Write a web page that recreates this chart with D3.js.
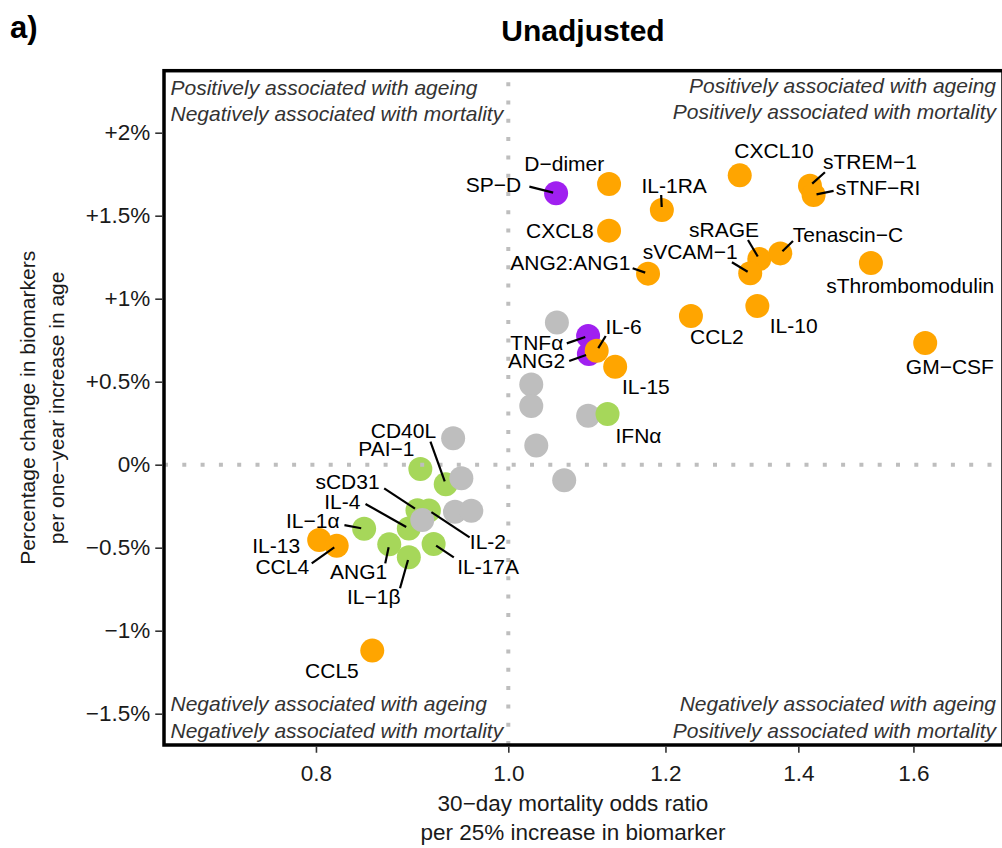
<!DOCTYPE html>
<html>
<head>
<meta charset="utf-8">
<script src="https://cdn.jsdelivr.net/npm/d3@7"></script>
<style>
  html, body { margin: 0; padding: 0; background: #fff; }
  svg { display: block; font-family: "Liberation Sans", Arial, Helvetica, sans-serif; }
</style>
</head>
<body>
<svg id="chart" width="1002" height="848"></svg>
<script>
// ---- data (draw order: later entries are painted on top) ----
const biomarkers = [
  "PAI\u22121", "CD40L", "sCD31", "IL-2", "IL-4", "IL\u22121\u03b1", "ANG1", "IL-17A", "IL\u22121\u03b2",
  null, null, null, null, null, null, null, null, null, null, null,
  "IFN\u03b1",
  "SP\u2212D", "TNF\u03b1", "ANG2",
  "D\u2212dimer", "IL-1RA", "CXCL10", "sTREM\u22121", "sTNF\u2212RI", "CXCL8", "ANG2:ANG1",
  "sRAGE", "sVCAM\u22121", "Tenascin\u2212C", "sThrombomodulin", "IL-10", "CCL2", "GM\u2212CSF",
  "IL-6", "IL-15", "IL-13", "CCL4", "CCL5"
];
const oddsRatio = [
  0.903, 0.930, 0.900, 0.912, 0.891, 0.846, 0.871, 0.917, 0.891,
  1.058, 1.027, 1.027, 1.097, 1.033, 1.067, 0.938, 0.947, 0.940, 0.958, 0.905,
  1.122,
  1.057, 1.097, 1.098,
  1.124, 1.195, 1.308, 1.419, 1.425, 1.124, 1.176,
  1.338, 1.324, 1.371, 1.523, 1.335, 1.236, 1.622,
  1.108, 1.132, 0.803, 0.8195, 0.854
];
const pctChange = [
  -0.026, -0.118, -0.275, -0.276, -0.384, -0.386, -0.480, -0.478, -0.557,
  0.857, 0.483, 0.354, 0.295, 0.116, -0.094, 0.159, -0.082, -0.283, -0.277, -0.333,
  0.305,
  1.635, 0.775, 0.667,
  1.691, 1.534, 1.743, 1.681, 1.625, 1.410, 1.151,
  1.239, 1.153, 1.273, 1.215, 0.956, 0.896, 0.733,
  0.687, 0.590, -0.454, -0.488, -1.120
];
const group = [
  "green", "green", "green", "green", "green", "green", "green", "green", "green",
  "grey", "grey", "grey", "grey", "grey", "grey", "grey", "grey", "grey", "grey", "grey",
  "green",
  "purple", "purple", "purple",
  "orange", "orange", "orange", "orange", "orange", "orange", "orange",
  "orange", "orange", "orange", "orange", "orange", "orange", "orange",
  "orange", "orange", "orange", "orange", "orange"
];

const xTicks = [0.8, 1.0, 1.2, 1.4, 1.6];
const xTickLabels = ["0.8", "1.0", "1.2", "1.4", "1.6"];
const yTicks = [2, 1.5, 1, 0.5, 0, -0.5, -1, -1.5];
const yTickLabels = ["+2%", "+1.5%", "+1%", "+0.5%", "0%", "\u22120.5%", "\u22121%", "\u22121.5%"];

const quadrantText = {
  topLeft: ["Positively associated with ageing", "Negatively associated with mortality"],
  topRight: ["Positively associated with ageing", "Positively associated with mortality"],
  bottomLeft: ["Negatively associated with ageing", "Negatively associated with mortality"],
  bottomRight: ["Negatively associated with ageing", "Positively associated with mortality"]
};

// ---- styling / layout ----
const colours = { orange: "#FFA500", purple: "#A020F0", green: "#A6D75A", grey: "#BEBEBE" };
const pointRadius = 12;
const labelSize = 21;
const tickSize = 22.5;

// label placement: text centre offset from the point (dx, dy) and,
// where a leader line is drawn, its start offset from the point (sx, sy)
const labelLayout = {
  "D\u2212dimer":      { dx: -44.8, dy: -21 },
  "IL-1RA":            { dx: 12.3, dy: -25, sx: -0.7, sy: -15 },
  "CXCL10":            { dx: 34.3, dy: -24.6 },
  "sTREM\u22121":      { dx: 60, dy: -24, sx: 15, sy: -13.4 },
  "sTNF\u2212RI":      { dx: 64.5, dy: -7.3, sx: 20, sy: -4 },
  "CXCL8":             { dx: -49.2, dy: 0 },
  "ANG2:ANG1":         { dx: -77.7, dy: -11.4, sx: -15.4, sy: -5.4 },
  "sRAGE":             { dx: -35.3, dy: -30, sx: -11.3, sy: -19 },
  "sVCAM\u22121":      { dx: -60, dy: -21.6, sx: -18.3, sy: -11 },
  "Tenascin\u2212C":   { dx: 67.7, dy: -19.3, sx: 12.7, sy: -12.3 },
  "sThrombomodulin":   { dx: 39.3, dy: 22.7 },
  "IL-10":             { dx: 36.3, dy: 19.7 },
  "CCL2":              { dx: 26, dy: 20.7 },
  "GM\u2212CSF":       { dx: 24.7, dy: 23.7 },
  "IL-6":              { dx: 27, dy: -24.7, sx: 9, sy: -14.7 },
  "IL-15":             { dx: 30.7, dy: 20 },
  "IL-13":             { dx: -43, dy: 5 },
  "CCL4":              { dx: -54.4, dy: 21, sx: -25, sy: 17.6 },
  "CCL5":              { dx: -40.3, dy: 20 },
  "SP\u2212D":         { dx: -62.5, dy: -9.3, sx: -26.7, sy: -6.6 },
  "TNF\u03b1":         { dx: -51.3, dy: 6.7, sx: -21.3, sy: 7.3 },
  "ANG2":              { dx: -52.3, dy: 6.7, sx: -19.7, sy: 7 },
  "IFN\u03b1":         { dx: 31, dy: 21 },
  "PAI\u22121":        { dx: -34, dy: -20.7 },
  "CD40L":             { dx: -42.3, dy: -54.3, sx: -15.3, sy: -42.6 },
  "sCD31":             { dx: -70, dy: -28.6, sx: -33.3, sy: -22 },
  "IL-2":              { dx: 59, dy: 31.2, sx: 40.7, sy: 26.8 },
  "IL-4":              { dx: -66.5, dy: -26.8, sx: -43.3, sy: -24.5 },
  "IL\u22121\u03b1":   { dx: -51.3, dy: -8.7, sx: -19.7, sy: -3.7 },
  "ANG1":              { dx: -30.7, dy: 27.4, sx: -4, sy: 19 },
  "IL-17A":            { dx: 54.5, dy: 22.7, sx: 20.2, sy: 13.3 },
  "IL\u22121\u03b2":   { dx: -35, dy: 39.5, sx: -8.8, sy: 31.1 }
};

const panel = { left: 164, top: 70.7, right: 1003, bottom: 745 };

const svg = d3.select("#chart");

const x = d3.scaleLog().domain([0.6707, 1.7752]).range([panel.left, panel.right]);
const y = d3.scaleLinear().domain([-1.6886, 2.3735]).range([panel.bottom, panel.top]);

const points = biomarkers.map((name, i) => ({
  name, or: oddsRatio[i], pct: pctChange[i], group: group[i]
}));

// clip everything inside the panel
svg.append("defs").append("clipPath").attr("id", "panelClip")
  .append("rect")
  .attr("x", panel.left).attr("y", panel.top)
  .attr("width", panel.right - panel.left).attr("height", panel.bottom - panel.top);

const plot = svg.append("g").attr("clip-path", "url(#panelClip)");

// points
plot.append("g").selectAll("circle")
  .data(points)
  .join("circle")
  .attr("cx", d => x(d.or))
  .attr("cy", d => y(d.pct))
  .attr("r", pointRadius)
  .attr("fill", d => colours[d.group]);

// dotted reference lines at OR = 1 and 0% change
plot.append("line")
  .attr("x1", x(1)).attr("x2", x(1))
  .attr("y1", panel.bottom).attr("y2", panel.top)
  .attr("stroke", "#BEBEBE").attr("stroke-width", 4)
  .attr("stroke-dasharray", "4,14.3");
plot.append("line")
  .attr("x1", panel.left).attr("x2", panel.right)
  .attr("y1", y(0)).attr("y2", y(0))
  .attr("stroke", "#BEBEBE").attr("stroke-width", 4)
  .attr("stroke-dasharray", "4,14.3");

// labels and leader lines
const labelled = points.filter(d => d.name && labelLayout[d.name]);
const segs = plot.append("g");
const labs = plot.append("g");
labelled.forEach(d => {
  const L = labelLayout[d.name];
  const px = x(d.or), py = y(d.pct);
  if (L.sx !== undefined) {
    const x0 = px + L.sx, y0 = py + L.sy;
    const len = Math.hypot(px - x0, py - y0);
    const k = Math.max(0, (len - 3) / len);
    segs.append("line")
      .attr("x1", x0).attr("y1", y0)
      .attr("x2", x0 + (px - x0) * k).attr("y2", y0 + (py - y0) * k)
      .attr("stroke", "#000").attr("stroke-width", 2.2);
  }
  labs.append("text")
    .attr("x", px + L.dx)
    .attr("y", py + L.dy)
    .attr("dy", "0.36em")
    .attr("text-anchor", "middle")
    .attr("font-size", labelSize)
    .attr("fill", "#000")
    .text(d.name);
});

// quadrant annotations
const qSize = 21, qGap = 26.3;
function quadrant(lines, xPos, yFirst, anchor) {
  lines.forEach((t, i) => {
    svg.append("text")
      .attr("x", xPos).attr("y", yFirst + i * qGap)
      .attr("dy", "0.36em")
      .attr("text-anchor", anchor)
      .attr("font-size", qSize)
      .attr("font-style", "italic")
      .attr("fill", "#333")
      .text(t);
  });
}
quadrant(quadrantText.topLeft, panel.left + 6.5, panel.top + 16.5, "start");
quadrant(quadrantText.topRight, panel.right - 7, panel.top + 14.5, "end");
quadrant(quadrantText.bottomLeft, panel.left + 6.5, panel.bottom - 41.3, "start");
quadrant(quadrantText.bottomRight, panel.right - 7, panel.bottom - 41.3, "end");

// panel frame
svg.append("rect")
  .attr("x", panel.left).attr("y", panel.top)
  .attr("width", panel.right - panel.left).attr("height", panel.bottom - panel.top)
  .attr("fill", "none").attr("stroke", "#000").attr("stroke-width", 3.5);

// axes
const yAxis = d3.axisLeft(y)
  .tickValues(yTicks)
  .tickFormat((d, i) => yTickLabels[i])
  .tickSize(7).tickPadding(5);
const gy = svg.append("g").attr("transform", `translate(${panel.left - 1.75},0)`).call(yAxis);

const xAxis = d3.axisBottom(x)
  .tickValues(xTicks)
  .tickFormat((d, i) => xTickLabels[i])
  .tickSize(6).tickPadding(12);
const gx = svg.append("g").attr("transform", `translate(0,${panel.bottom + 1.75})`).call(xAxis);

[gx, gy].forEach(g => {
  g.select(".domain").remove();
  g.selectAll(".tick line").attr("stroke", "#333").attr("stroke-width", 1.6);
  g.selectAll(".tick text")
    .attr("font-size", tickSize)
    .attr("font-family", "Liberation Sans, Arial, sans-serif")
    .attr("fill", "#1a1a1a");
});

// axis titles
const midY = (panel.top + panel.bottom) / 2;
const xTitleX = 573;
svg.append("text").attr("x", xTitleX).attr("y", 803).attr("dy", "0.36em")
  .attr("text-anchor", "middle").attr("font-size", 22.5).attr("fill", "#1a1a1a")
  .text("30\u2212day mortality odds ratio");
svg.append("text").attr("x", xTitleX).attr("y", 832).attr("dy", "0.36em")
  .attr("text-anchor", "middle").attr("font-size", 22.5).attr("fill", "#1a1a1a")
  .text("per 25% increase in biomarker");

svg.append("text")
  .attr("transform", `translate(27,${midY}) rotate(-90)`)
  .attr("dy", "0.36em").attr("text-anchor", "middle")
  .attr("font-size", 21).attr("fill", "#1a1a1a")
  .text("Percentage change in biomarkers");
svg.append("text")
  .attr("transform", `translate(56,${midY}) rotate(-90)`)
  .attr("dy", "0.36em").attr("text-anchor", "middle")
  .attr("font-size", 21).attr("fill", "#1a1a1a")
  .text("per one\u2212year increase in age");

// titles
svg.append("text").attr("x", 583).attr("y", 30).attr("dy", "0.36em")
  .attr("text-anchor", "middle").attr("font-size", 30).attr("font-weight", "bold")
  .text("Unadjusted");
svg.append("text").attr("x", 10).attr("y", 27).attr("dy", "0.36em")
  .attr("text-anchor", "start").attr("font-size", 31).attr("font-weight", "bold")
  .text("a)");
</script>
</body>
</html>
